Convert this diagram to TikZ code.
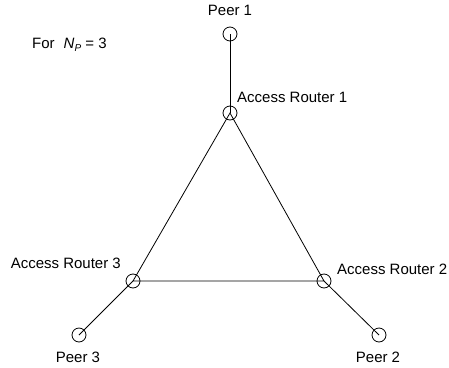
\documentclass[tikz,border=0pt]{standalone}
\usepackage{fontspec}
\setmainfont{Liberation Sans}
\begin{document}
\begin{tikzpicture}[x=1pt,y=-1pt,
  site/.style={circle,draw,line width=0.8pt,minimum size=14pt,inner sep=0pt},
  link/.style={line width=0.8pt},
  lbl/.style={font=\fontsize{15}{17}\selectfont,inner sep=0pt}]
\useasboundingbox (0,0) rectangle (449,367);
% nodes
\node[site] (p1)  at (230,34)  {};
\node[site] (ar1) at (230,113) {};
\node[site] (ar2) at (324,281) {};
\node[site] (ar3) at (133,281) {};
\node[site] (p2)  at (379,335) {};
\node[site] (p3)  at (79,335)  {};
% links
\draw[link] (p1.center) -- (ar1.center);
\draw[link] (ar1.center) -- (ar2.center) -- (ar3.center) -- cycle;
\draw[link] (ar2.center) -- (p2.center);
\draw[link] (ar3.center) -- (p3.center);
% labels
\node[lbl] (tp1) at (230,10) {Peer 1};
\node[lbl,anchor=west] (tar1) at (237,97) {Access Router 1};
\node[lbl,anchor=east] (tar3) at (121,263) {Access Router 3};
\node[lbl,anchor=west] (tar2) at (337,269) {Access Router 2};
\node[lbl] (tp3) at (78,357) {Peer 3};
\node[lbl] (tp2) at (378,357) {Peer 2};
\node[lbl,anchor=west] (np) at (32,45) {For\hspace{0.6em}\textit{N}\raisebox{-0.4ex}{\fontsize{10}{11}\selectfont\itshape P} = 3};
\end{tikzpicture}
\end{document}
